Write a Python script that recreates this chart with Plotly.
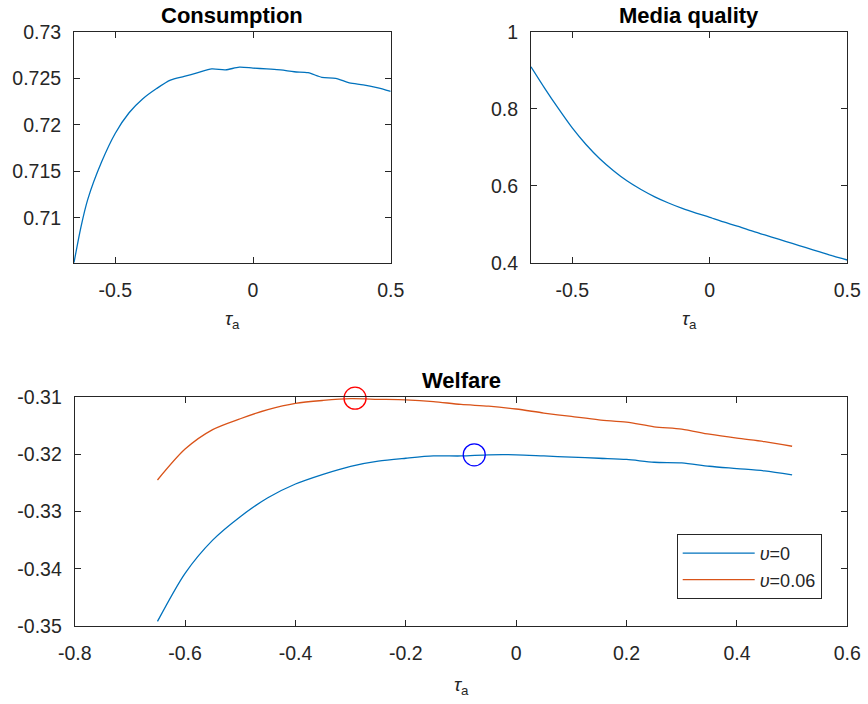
import plotly.graph_objects as go

# ---------------- data ----------------
tau_c = [-0.65, -0.625, -0.60, -0.55, -0.50, -0.45, -0.40, -0.35, -0.30, -0.25, -0.20, -0.15,
         -0.10, -0.05, 0.00, 0.05, 0.10, 0.15, 0.20, 0.25, 0.30, 0.35, 0.40, 0.45, 0.50]
consumption = [0.7052, 0.7090, 0.7120, 0.7160, 0.7191, 0.7213, 0.7228, 0.7239, 0.7248, 0.7252,
               0.7256, 0.7260, 0.7259, 0.7262, 0.7261, 0.7260, 0.7259, 0.7257, 0.7256, 0.7251,
               0.7250, 0.7245, 0.7243, 0.7240, 0.7236]

tau = [-0.65, -0.60, -0.55, -0.50, -0.45, -0.40, -0.35, -0.30, -0.25, -0.20, -0.15, -0.10,
       -0.05, 0.00, 0.05, 0.10, 0.15, 0.20, 0.25, 0.30, 0.35, 0.40, 0.45, 0.50]
media_quality = [0.909, 0.853, 0.800, 0.750, 0.707, 0.670, 0.639, 0.612, 0.590, 0.571, 0.555, 0.541,
                 0.529, 0.518, 0.506, 0.495, 0.483, 0.472, 0.461, 0.450, 0.439, 0.428, 0.417, 0.407]

welfare_v0 = [-0.3492, -0.3408, -0.3350, -0.3309, -0.3276, -0.3252, -0.3235, -0.3221, -0.3212, -0.3207,
              -0.3203, -0.3203, -0.3201, -0.3201, -0.3203, -0.3205, -0.3207, -0.3209, -0.3214, -0.3215,
              -0.3221, -0.3225, -0.3229, -0.3236]
welfare_v006 = [-0.3245, -0.3191, -0.3157, -0.3138, -0.3122, -0.3111, -0.3106, -0.3103, -0.3104, -0.3105,
                -0.3108, -0.3113, -0.3116, -0.3121, -0.3128, -0.3134, -0.3140, -0.3144, -0.3152, -0.3156,
                -0.3165, -0.3172, -0.3178, -0.3186]

opt_tau_v0, opt_w_v0 = [-0.076], [-0.3201]
opt_tau_v006, opt_w_v006 = [-0.292], [-0.3102]

series_names = ["<i>υ</i>=0", "<i>υ</i>=0.06"]
titles = ["Consumption", "Media quality", "Welfare"]
xlabel = "<i>τ</i><sub>a</sub>"

top_xticks = [-0.5, 0, 0.5]
top_xticktext = ["-0.5", "0", "0.5"]
cons_yticks = [0.71, 0.715, 0.72, 0.725, 0.73]
cons_yticktext = ["0.71", "0.715", "0.72", "0.725", "0.73"]
mq_yticks = [0.4, 0.6, 0.8, 1.0]
mq_yticktext = ["0.4", "0.6", "0.8", "1"]
w_xticks = [-0.8, -0.6, -0.4, -0.2, 0, 0.2, 0.4, 0.6]
w_xticktext = ["-0.8", "-0.6", "-0.4", "-0.2", "0", "0.2", "0.4", "0.6"]
w_yticks = [-0.35, -0.34, -0.33, -0.32, -0.31]
w_yticktext = ["-0.35", "-0.34", "-0.33", "-0.32", "-0.31"]

# ---------------- layout geometry ----------------
W, H = 868, 704
BLUE, ORANGE = "#0072BD", "#D95319"
AX = "#262626"
FONT = "Liberation Sans, Arial, Helvetica, sans-serif"

def fx(p):
    return p / W

def fy(p):
    return 1 - p / H

dom_x1 = [fx(74), fx(390.7)]
dom_x2 = [fx(531), fx(847.3)]
dom_x3 = [fx(74.7), fx(847.3)]
dom_ytop = [fy(262.7), fy(31.7)]
dom_ybot = [fy(626), fy(397)]

LINE = dict(width=1.3, shape="spline", smoothing=0.8)

fig = go.Figure()
fig.add_trace(go.Scatter(x=tau_c, y=consumption, mode="lines", line=dict(color=BLUE, **LINE),
                         xaxis="x", yaxis="y", showlegend=False))
fig.add_trace(go.Scatter(x=tau, y=media_quality, mode="lines", line=dict(color=BLUE, **LINE),
                         xaxis="x2", yaxis="y2", showlegend=False))
fig.add_trace(go.Scatter(x=tau, y=welfare_v0, mode="lines", line=dict(color=BLUE, **LINE),
                         xaxis="x3", yaxis="y3", name=series_names[0]))
fig.add_trace(go.Scatter(x=tau, y=welfare_v006, mode="lines", line=dict(color=ORANGE, **LINE),
                         xaxis="x3", yaxis="y3", name=series_names[1]))
fig.add_trace(go.Scatter(x=opt_tau_v006, y=opt_w_v006, mode="markers",
                         marker=dict(symbol="circle-open", size=22, color="#FF0000", line=dict(width=1.3)),
                         xaxis="x3", yaxis="y3", showlegend=False, cliponaxis=False))
fig.add_trace(go.Scatter(x=opt_tau_v0, y=opt_w_v0, mode="markers",
                         marker=dict(symbol="circle-open", size=22, color="#0000FF", line=dict(width=1.3)),
                         xaxis="x3", yaxis="y3", showlegend=False, cliponaxis=False))

common = dict(showline=True, linecolor=AX, linewidth=1, mirror="ticks", ticks="inside", ticklen=6,
              tickcolor=AX, tickwidth=1, showgrid=False, zeroline=False, automargin=False,
              tickfont=dict(family=FONT, size=19.5, color=AX), tickmode="array")

fig.update_layout(
    width=W, height=H, margin=dict(l=0, r=0, t=0, b=0),
    paper_bgcolor="white", plot_bgcolor="white",
    font=dict(family=FONT, color=AX),
    xaxis=dict(domain=dom_x1, anchor="y", range=[-0.65, 0.5], tickvals=top_xticks,
               ticktext=top_xticktext, ticklabelstandoff=10, **common),
    yaxis=dict(domain=dom_ytop, anchor="x", range=[0.7052, 0.73], tickvals=cons_yticks,
               ticktext=cons_yticktext, ticklabelstandoff=8, **common),
    xaxis2=dict(domain=dom_x2, anchor="y2", range=[-0.65, 0.5], tickvals=top_xticks,
                ticktext=top_xticktext, ticklabelstandoff=10, **common),
    yaxis2=dict(domain=dom_ytop, anchor="x2", range=[0.4, 1.0], tickvals=mq_yticks,
                ticktext=mq_yticktext, ticklabelstandoff=8, **common),
    xaxis3=dict(domain=dom_x3, anchor="y3", range=[-0.8, 0.6], tickvals=w_xticks,
                ticktext=w_xticktext, ticklabelstandoff=10, **common),
    yaxis3=dict(domain=dom_ybot, anchor="x3", range=[-0.35, -0.31], tickvals=w_yticks,
                ticktext=w_yticktext, ticklabelstandoff=8, **common),
    legend=dict(x=fx(821.7), xanchor="right", y=fy(534), yanchor="top",
                bgcolor="white", bordercolor=AX, borderwidth=1,
                font=dict(family=FONT, size=18, color=AX), itemwidth=72,
                tracegroupgap=0),
)

ann = []
title_pos = [((74 + 390.7) / 2, 15), ((531 + 847.3) / 2, 15), ((74.7 + 847.3) / 2, 380)]
for t, (cx, cy) in zip(titles, title_pos):
    ann.append(dict(text="<b>%s</b>" % t, x=fx(cx), y=fy(cy), xref="paper", yref="paper",
                    xanchor="center", yanchor="middle", showarrow=False,
                    font=dict(family=FONT, size=22, color="black")))
label_pos = [((74 + 390.7) / 2, 320), ((531 + 847.3) / 2, 320), ((74.7 + 847.3) / 2, 686)]
for cx, cy in label_pos:
    ann.append(dict(text=xlabel, x=fx(cx), y=fy(cy), xref="paper", yref="paper",
                    xanchor="center", yanchor="middle", showarrow=False,
                    font=dict(family=FONT, size=19, color=AX)))
fig.update_layout(annotations=ann)

fig.write_html("out.html")
